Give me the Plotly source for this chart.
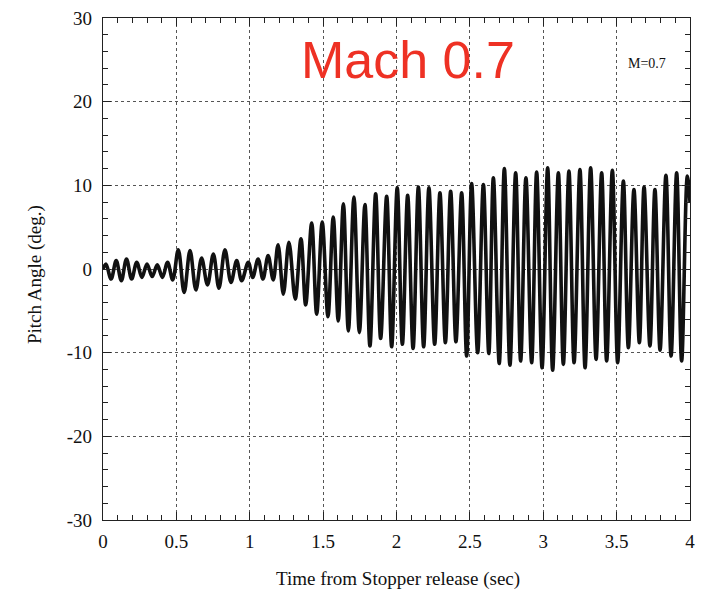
import plotly.graph_objects as go

# Extrema (time in s, pitch angle in deg)
start_t = [0.0]
start_v = [0.0]
peak_t = [0.02, 0.09, 0.16, 0.23, 0.30, 0.37, 0.44,
          0.513, 0.593, 0.672, 0.752, 0.831, 0.911, 0.99,
          1.057, 1.125, 1.193, 1.267, 1.349, 1.422, 1.494,
          1.569, 1.638, 1.710, 1.785, 1.858, 1.933,
          2.005, 2.076, 2.149, 2.221, 2.296, 2.369, 2.444,
          2.512, 2.592, 2.660, 2.735, 2.812, 2.882, 2.955,
          3.030, 3.103, 3.175, 3.250, 3.323, 3.398, 3.471,
          3.546, 3.618, 3.687, 3.761, 3.836, 3.909, 3.982]
peak_v = [0.6, 1.0, 1.2, 0.8, 0.6, 0.5, 0.8,
          2.3, 2.2, 1.3, 1.8, 2.3, 1.0, 0.8,
          1.2, 1.6, 2.9, 3.2, 3.6, 5.5, 5.6,
          6.2, 7.8, 8.6, 7.7, 9.0, 8.7,
          9.7, 8.8, 9.8, 9.7, 9.1, 9.3, 9.1,
          10.2, 10.1, 10.9, 12.0, 11.5, 10.9, 11.6,
          12.1, 11.5, 11.7, 11.9, 12.1, 11.5, 11.8,
          10.5, 9.5, 9.8, 9.5, 11.2, 11.5, 11.1]
trough_t = [0.055, 0.125, 0.195, 0.265, 0.335, 0.405, 0.475,
            0.553, 0.633, 0.712, 0.79, 0.872, 0.945,
            1.02, 1.09, 1.16, 1.229, 1.31, 1.381, 1.456, 1.533,
            1.603, 1.672, 1.747, 1.819, 1.892, 1.967,
            2.040, 2.113, 2.185, 2.260, 2.333, 2.405, 2.478,
            2.553, 2.629, 2.700, 2.773, 2.846, 2.921, 2.992,
            3.064, 3.137, 3.210, 3.285, 3.360, 3.432, 3.507,
            3.580, 3.655, 3.727, 3.796, 3.871, 3.943]
trough_v = [-1.2, -1.4, -1.2, -1.0, -0.9, -1.0, -1.3,
            -2.8, -2.5, -1.9, -2.3, -1.6, -1.4,
            -1.0, -1.2, -1.3, -3.0, -3.6, -4.3, -5.4, -5.7,
            -6.2, -7.4, -7.6, -9.2, -8.3, -9.3,
            -9.0, -9.5, -9.3, -9.0, -8.8, -8.7, -10.4,
            -10.0, -10.1, -11.3, -11.5, -11.0, -11.2, -11.8,
            -12.1, -11.4, -11.2, -11.8, -10.8, -11.0, -11.2,
            -9.4, -8.8, -9.2, -9.7, -10.4, -11.0]
end_t = [4.0]
end_v = [8.0]

x_ticks = [0, 0.5, 1, 1.5, 2, 2.5, 3, 3.5, 4]
x_labels = ["0", "0.5", "1", "1.5", "2", "2.5", "3", "3.5", "4"]
y_ticks = [-30, -20, -10, 0, 10, 20, 30]
y_labels = ["-30", "-20", "-10", "0", "10", "20", "30"]

pts = sorted(zip(start_t + peak_t + trough_t + end_t,
                 start_v + peak_v + trough_v + end_v))
t = [p[0] for p in pts]
v = [p[1] for p in pts]

fig = go.Figure()
fig.add_trace(go.Scatter(x=t, y=v, mode="lines",
                         line=dict(color="#111111", width=3.6, shape="spline", smoothing=1.0),
                         hoverinfo="skip", showlegend=False))

serif = "Liberation Serif, Times New Roman, serif"
axis_common = dict(
    showline=True, linecolor="#222", linewidth=1.2, mirror="ticks",
    ticks="inside", ticklen=8, tickwidth=1, tickcolor="#222",
    showgrid=True, gridcolor="#555", griddash="dot", gridwidth=1,
    zeroline=False, automargin=False,
    tickfont=dict(family=serif, size=19, color="#111"),
)
fig.update_xaxes(range=[0, 4], tickvals=x_ticks, ticktext=x_labels,
                 minor=dict(dtick=0.1, ticks="inside", ticklen=5, tickcolor="#222", showgrid=False),
                 ticklabelstandoff=4,
                 **axis_common)
fig.update_yaxes(range=[-30, 30], tickvals=y_ticks, ticktext=y_labels,
                 minor=dict(dtick=2, ticks="inside", ticklen=5, tickcolor="#222", showgrid=False),
                 ticklabelstandoff=6,
                 **axis_common)

fig.add_annotation(text="Time from Stopper release (sec)", xref="paper", yref="paper",
                   x=0.5026, y=-0.1175, xanchor="center", yanchor="middle", showarrow=False,
                   font=dict(family=serif, size=19, color="#111"))
fig.add_annotation(text="Pitch Angle (deg.)", xref="paper", yref="paper", textangle=-90,
                   x=-0.1158, y=0.488, xanchor="center", yanchor="middle", showarrow=False,
                   font=dict(family=serif, size=19, color="#111"))
fig.add_annotation(text="Mach 0.7", xref="paper", yref="paper", x=0.52, y=0.916,
                   xanchor="center", yanchor="middle",
                   showarrow=False, font=dict(family="Liberation Sans, Arial, sans-serif",
                                              size=52, color="#ee3124"))
fig.add_annotation(text="M=0.7", xref="paper", yref="paper", x=0.927, y=0.91,
                   xanchor="center", yanchor="middle",
                   showarrow=False, font=dict(family=serif, size=14, color="#111"))

fig.update_layout(width=706, height=592, margin=dict(l=103, r=16, t=18, b=72),
                  paper_bgcolor="white", plot_bgcolor="white")
fig.write_html("out.html")
